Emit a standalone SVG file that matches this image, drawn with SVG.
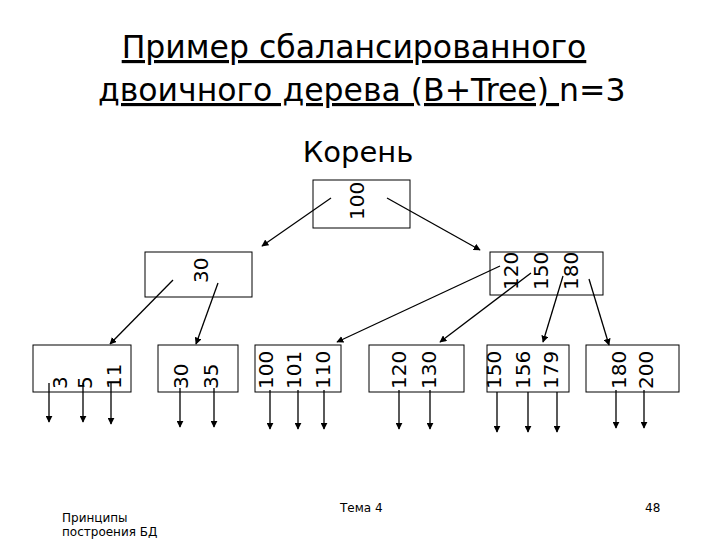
<svg xmlns="http://www.w3.org/2000/svg" width="720" height="540" viewBox="0 0 720 540">
<defs>
<marker id="ah" viewBox="0 0 10 10" refX="9" refY="5" markerWidth="7" markerHeight="7" orient="auto" markerUnits="userSpaceOnUse"><path d="M0,0 L10,5 L0,10 z" fill="#000"/></marker>
</defs>
<style>
.box{fill:#fff;stroke:#000;stroke-width:1}
.k{font-family:"DejaVu Sans",sans-serif;font-size:20px;fill:#000}
.c{stroke:#000;stroke-width:1.3;fill:none;marker-end:url(#ah)}
.t{font-family:"DejaVu Sans",sans-serif;font-size:29px;fill:#000}
.h{font-family:"DejaVu Sans",sans-serif;font-size:31.5px;fill:#000}
.f{font-family:"DejaVu Sans",sans-serif;font-size:12px;fill:#000}
</style>
<rect width="720" height="540" fill="#fff"/>
<text class="h" x="354" y="58" text-anchor="middle" text-decoration="underline">Пример сбалансированного</text>
<text class="h" x="98" y="101"><tspan text-decoration="underline">двоичного дерева (B+Tree) </tspan>n=3</text>
<text class="t" x="358" y="162" text-anchor="middle">Корень</text>
<g id="root"><rect class="box" x="313" y="180" width="97" height="48"/><text class="k" transform="translate(364,220) rotate(-90)">100</text></g>
<g id="n30"><rect class="box" x="145" y="252" width="107" height="45"/><text class="k" transform="translate(208,283) rotate(-90)">30</text></g>
<g id="n120"><rect class="box" x="490" y="252" width="113" height="43"/><text class="k" transform="translate(518,290) rotate(-90)">120</text><text class="k" transform="translate(548,290) rotate(-90)">150</text><text class="k" transform="translate(578,290) rotate(-90)">180</text></g>
<g id="leaf1"><rect class="box" x="33" y="345" width="98" height="47"/><text class="k" transform="translate(67,389) rotate(-90)">3</text><text class="k" transform="translate(92,389) rotate(-90)">5</text><text class="k" transform="translate(121,389) rotate(-90)">11</text></g>
<g id="leaf2"><rect class="box" x="158" y="345" width="80" height="47"/><text class="k" transform="translate(188,389) rotate(-90)">30</text><text class="k" transform="translate(218,389) rotate(-90)">35</text></g>
<g id="leaf3"><rect class="box" x="255" y="345" width="86" height="47"/><text class="k" transform="translate(273,389) rotate(-90)">100</text><text class="k" transform="translate(301,389) rotate(-90)">101</text><text class="k" transform="translate(330,389) rotate(-90)">110</text></g>
<g id="leaf4"><rect class="box" x="369" y="345" width="95" height="47"/><text class="k" transform="translate(406,389) rotate(-90)">120</text><text class="k" transform="translate(436,389) rotate(-90)">130</text></g>
<g id="leaf5"><rect class="box" x="487" y="345" width="82" height="47"/><text class="k" transform="translate(501,389) rotate(-90)">150</text><text class="k" transform="translate(530,389) rotate(-90)">156</text><text class="k" transform="translate(558,389) rotate(-90)">179</text></g>
<g id="leaf6"><rect class="box" x="586" y="345" width="93" height="47"/><text class="k" transform="translate(626,389) rotate(-90)">180</text><text class="k" transform="translate(653,389) rotate(-90)">200</text></g>
<g id="connectors">
<line class="c" x1="331" y1="198" x2="262" y2="246"/>
<line class="c" x1="387" y1="198" x2="480" y2="250"/>
<line class="c" x1="173" y1="280" x2="110" y2="344"/>
<line class="c" x1="218" y1="283" x2="196" y2="344"/>
<line class="c" x1="500" y1="266" x2="337" y2="342"/>
<line class="c" x1="531" y1="273" x2="440" y2="342"/>
<line class="c" x1="563" y1="276" x2="543" y2="342"/>
<line class="c" x1="589" y1="279" x2="609" y2="345"/>
<line class="c" x1="49" y1="383" x2="49" y2="422"/>
<line class="c" x1="83" y1="383" x2="83" y2="422"/>
<line class="c" x1="111" y1="383" x2="111" y2="424"/>
<line class="c" x1="180" y1="388" x2="180" y2="427"/>
<line class="c" x1="214" y1="388" x2="214" y2="427"/>
<line class="c" x1="270" y1="390" x2="270" y2="429"/>
<line class="c" x1="298" y1="390" x2="298" y2="429"/>
<line class="c" x1="324" y1="390" x2="324" y2="429"/>
<line class="c" x1="399" y1="390" x2="399" y2="429"/>
<line class="c" x1="430" y1="390" x2="430" y2="429"/>
<line class="c" x1="497" y1="392" x2="497" y2="432"/>
<line class="c" x1="528" y1="392" x2="528" y2="432"/>
<line class="c" x1="557" y1="392" x2="557" y2="432"/>
<line class="c" x1="616" y1="390" x2="616" y2="428"/>
<line class="c" x1="644" y1="390" x2="644" y2="428"/>
</g>
<text class="f" x="62" y="522">Принципы</text>
<text class="f" x="62" y="536">построения БД</text>
<text class="f" x="340" y="512">Тема 4</text>
<text class="f" x="645" y="512">48</text>
</svg>
